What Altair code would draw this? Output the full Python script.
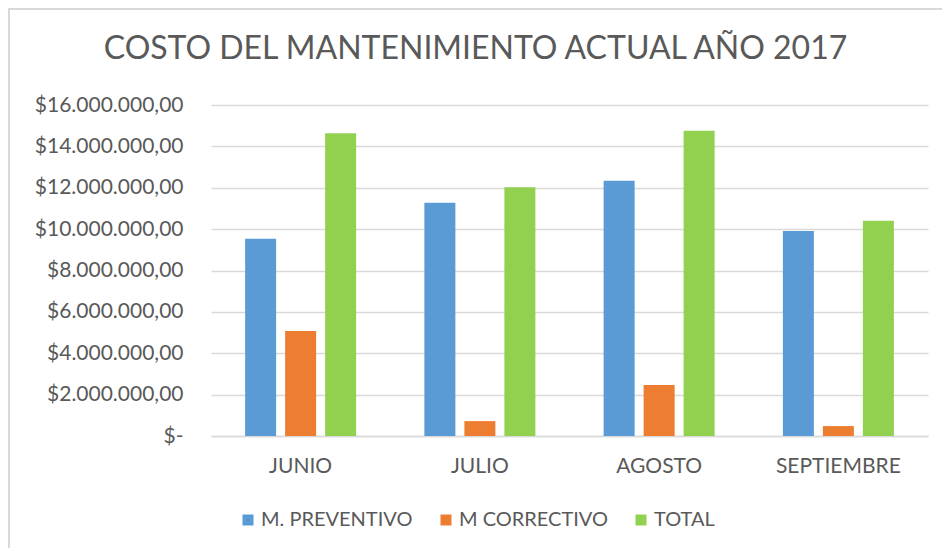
import altair as alt
import pandas as pd

meses = ["JUNIO", "JULIO", "AGOSTO", "SEPTIEMBRE"]
series = ["M. PREVENTIVO", "M CORRECTIVO", "TOTAL"]
preventivo = [9540000, 11280000, 12340000, 9910000]
correctivo = [5070000, 720000, 2470000, 480000]
total = [14630000, 12020000, 14760000, 10410000]
colores = ["#5B9BD5", "#ED7D31", "#92D050"]
y_ticks = [0, 2000000, 4000000, 6000000, 8000000, 10000000, 12000000, 14000000, 16000000]

rows = []
for serie, vals in zip(series, [preventivo, correctivo, total]):
    for m, v in zip(meses, vals):
        rows.append({"mes": m, "serie": serie, "valor": v})
df = pd.DataFrame(rows)

FONT = "Lato"
GREY = "#595959"
W, H = 717, 331
PAD = {"left": 203, "top": 97, "right": 14, "bottom": 112}

bars = alt.Chart(df).mark_bar().encode(
    x=alt.X("mes:N", sort=meses, title=None,
            scale=alt.Scale(paddingInner=0, paddingOuter=0),
            axis=alt.Axis(labelAngle=0, labelFontSize=21, labelColor=GREY, labelFont=FONT,
                          ticks=False, domain=True, domainColor="#D9D9D9", domainWidth=1.5,
                          labelPadding=19, grid=False)),
    xOffset=alt.XOffset("serie:N", sort=series,
                        scale=alt.Scale(paddingInner=0.225, paddingOuter=0.853)),
    y=alt.Y("valor:Q", title=None,
            scale=alt.Scale(domain=[0, 16000000], nice=False),
            axis=alt.Axis(values=y_ticks, domain=False, ticks=False, grid=True,
                          gridColor="#D9D9D9", gridWidth=1.5,
                          labelFontSize=21, labelColor=GREY, labelFont=FONT, labelPadding=28,
                          labelExpr="datum.value == 0 ? '$-\u00a0\u00a0\u00a0' : '$' + format(datum.value, ',.2f')")),
    color=alt.Color("serie:N", sort=series, title=None,
                    scale=alt.Scale(domain=series, range=colores),
                    legend=alt.Legend(orient="none", direction="horizontal", legendX=27, legendY=405,
                                      symbolType="square", symbolSize=121, symbolStrokeWidth=0,
                                      labelFontSize=20, labelColor=GREY, labelFont=FONT,
                                      labelOffset=3, columnPadding=23, padding=0,
                                      labelLimit=300)),
)

border = alt.Chart(pd.DataFrame({"a": [0]})).mark_rect(
    fill=None, stroke="#D9D9D9", strokeWidth=2, clip=False
).encode(
    x=alt.value(-202), x2=alt.value(W + 40), y=alt.value(-96), y2=alt.value(H + 200)
)

chart = alt.layer(border, bars).properties(
    width=W, height=H,
    autosize=alt.AutoSizeParams(type="none"),
    padding=PAD,
    title=alt.TitleParams("COSTO DEL MANTENIMIENTO ACTUAL AÑO 2017", fontSize=32, font=FONT,
                          fontWeight="normal", color=GREY, anchor="middle", dx=-94, offset=-58),
).configure(
    view=alt.ViewConfig(stroke=None),
    locale=alt.Locale(number=alt.NumberLocale(decimal=",", thousands=".", grouping=[3],
                                              currency=["$", ""])),
)

chart.save("out.html", embed_options={"renderer": "svg", "actions": False})
